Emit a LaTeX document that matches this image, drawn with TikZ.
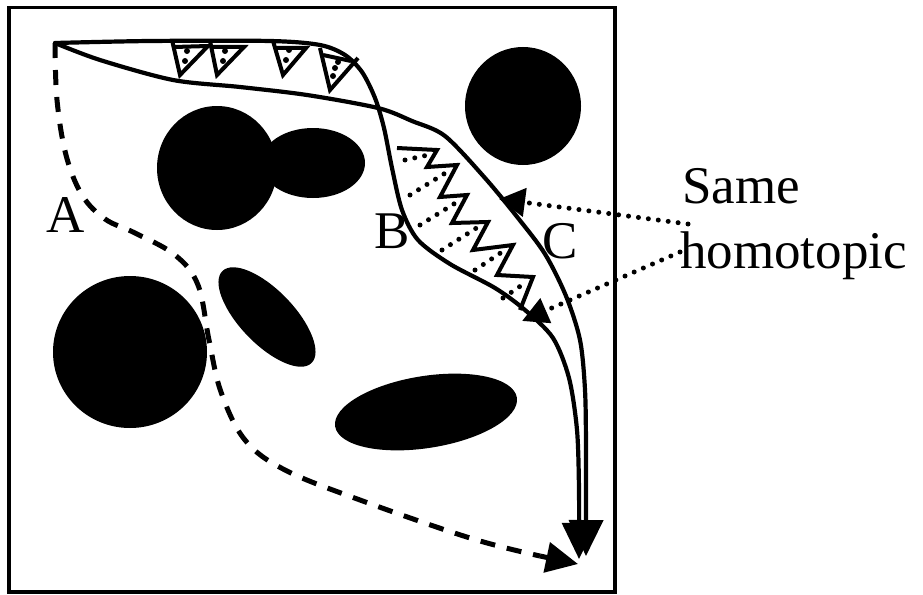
\documentclass[tikz,border=0pt]{standalone}
\usepackage{fontspec}
\setmainfont{Liberation Serif}
\usetikzlibrary{arrows.meta}

\begin{document}
\begin{tikzpicture}[x=1pt,y=-1pt,
  route/.style={line width=4.2pt, line join=round, line cap=round},
  bigtip/.style={-{Triangle[length=36pt,width=34pt]}},
  dashroute/.style={line width=5pt, dash pattern=on 15pt off 12pt},
  dotline/.style={line width=5pt, line cap=round, dash pattern=on 0pt off 10pt},
  saw/.style={line width=4pt, line join=miter},
  lbl/.style={font=\fontsize{53}{60}\selectfont, inner sep=0pt, anchor=base}
]
\useasboundingbox (0,0) rectangle (923,594);

% workspace border
\draw[line width=3.8pt] (9,7.5) rectangle (615,592);

% obstacles
\fill (523,106) ellipse [x radius=58, y radius=59];
\fill (217,168) ellipse [x radius=60, y radius=62];
\fill (313,163) ellipse [x radius=52, y radius=35];
\fill (130,352) ellipse [x radius=77, y radius=76];
\fill[rotate around={-46:(267,317)}] (267,317) ellipse [x radius=64, y radius=27];
\fill[rotate around={9:(426,412)}] (426,412) ellipse [x radius=92, y radius=36];

% start point
\coordinate (start) at (55,43);

% dashed route (class A)
\draw[dashroute] plot[smooth, tension=0.6] coordinates {
  (55,43) (57,100) (66,155) (82,195) (105,219) (135,233) (175,255)
  (198,285) (209,340) (221,392) (245,440) (285,470) (360,500)
  (470,538) (540,556)};
\draw[line width=5pt, -{Triangle[length=32pt,width=30pt]}] (540,556) -- (578,564);

% route through B: upper edge then left side of the channel
\draw[route, bigtip] plot[smooth, tension=0.5] coordinates {
  (start) (150,41) (270,41) (320,45) (345,55) (362,72) (375,98)
  (384,128) (392,168) (402,210) (418,240) (450,264) (495,288)
  (525,310) (553,338) (569,378) (577,430) (579,490) (579,559)};

% route through C: lower edge then right side of the channel
\draw[route, bigtip] plot[smooth, tension=0.5] coordinates {
  (start) (100,60) (173,80) (240,87) (307,95) (378,108) (412,121)
  (445,136) (485,178) (518,218) (545,254) (566,296) (580,340)
  (585,390) (586,450) (586,556)};

% deformation triangles along the upper edge
\draw[saw] (172,40) -- (180,75) -- (208,46) -- (174,47);
\draw[saw] (210,41) -- (217,75) -- (244,47) -- (212,47);
\draw[saw] (273,41) -- (283,75) -- (306,48) -- (275,48);
\draw[saw] (320,48) -- (330,90) -- (358,58);
\draw[saw] (323,55) -- (351,61);
\foreach \p in {(187,51),(185,61),(225,51),(223,61),(289,50),(286,60),
                (338,62),(335,68),(333,76)}
  \fill \p circle (3);

% sawtooth deformation between routes B and C
\draw[saw] (397,148) -- (437,150) -- (427,167) -- (457,165) -- (440,197)
  -- (467,195) -- (452,223) -- (488,222) -- (473,250) -- (513,245)
  -- (497,275) -- (533,277) -- (520,310);
\draw[dotline] (405,160) -- (428,155);
\draw[dotline] (410,195) -- (447,172);
\draw[dotline] (420,225) -- (457,202);
\draw[dotline] (442,250) -- (478,227);
\draw[dotline] (475,270) -- (502,252);
\draw[dotline] (503,298) -- (522,285);

% labels
\node[lbl] (labA) at (66,232) {A};
\node[lbl] (labB) at (392,248) {B};
\node[lbl] (labC) at (560,258) {C};
\node[lbl, anchor=base west] (same) at (682,203) {Same};
\node[lbl, anchor=base west] (homo) at (680,268) {homotopic};

% callouts
\coordinate (tipC) at (499,199);
\coordinate (tipB) at (522,321);
\draw[dotline, -{Triangle[length=26pt,width=28pt]}] (688,224) -- (tipC);
\draw[dotline, -{Triangle[length=26pt,width=26pt]}] (680,252) -- (tipB);
\end{tikzpicture}
\end{document}
